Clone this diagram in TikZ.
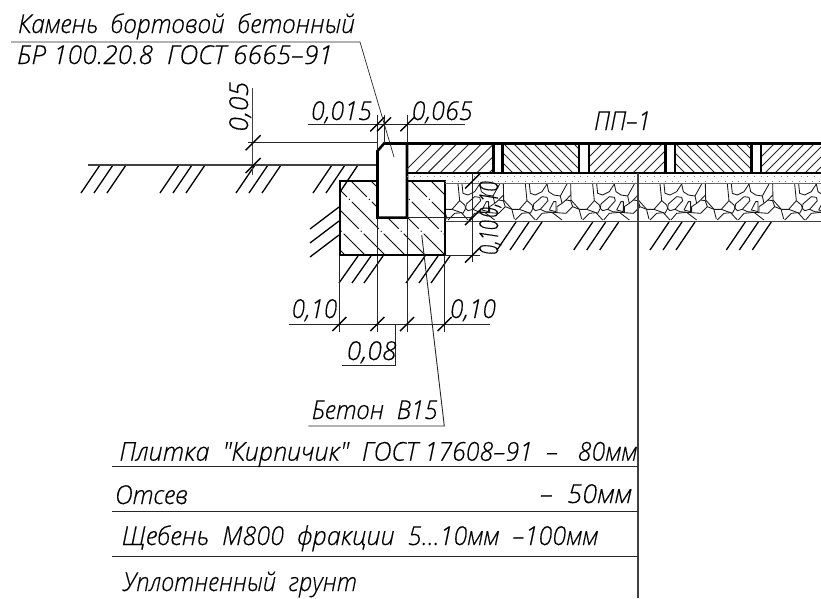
\documentclass[tikz,border=0pt]{standalone}
\usepackage{fontspec}
\usepackage{graphicx}
\newfontfamily\cadfont[UprightFont=* Light Italic,FakeBold=0.35]{Open Sans}
\newcommand{\cadtext}[6][0]{\node[txt,rotate=#1] (#2) at (#3,#4) {\resizebox{#5pt}{\height}{\cadfont\fontsize{26}{26}\selectfont #6}};}
\tikzset{
  txt/.style={anchor=base west,inner sep=0pt,outer sep=0pt},
  thinl/.style={line width=0.9pt,black!85},
  medl/.style={line width=1.4pt,black!75},
  hatchl/.style={line width=1.3pt,black},
  thick3/.style={line width=2.6pt,black,line join=miter},
  stone/.style={line width=0.85pt,black!90,line join=round},
  tick/.style={line width=1.4pt,black}
}
\newcommand{\stonetile}[1]{%
\begin{scope}[shift={(#1,170)},x=0.3333pt,y=-0.3333pt]
 \draw[stone] (92,42)--(93,90)--(118,118)--(140,118)--(163,92)--(158,42);
 \draw[stone] (170,42)--(173,70)--(188,75)--(208,65)--(223,42);
 \draw[stone] (223,42)--(228,65)--(243,75)--(263,78)--(283,42);
 \draw[stone] (181,115)--(183,102)--(208,80)--(223,82)--(226,92)--(203,118)--(188,122)--cycle;
 \draw[stone] (230,120)--(243,95)--(250,95)--(250,125)--cycle;
 \draw[stone] (253,128)--(253,110)--(268,100)--(280,90)--(294,92)--(300,110)--(280,130)--cycle;
 \draw[stone] (280,90)--(294,75) (263,78)--(268,100);
 \draw[stone] (163,92)--(178,105)--(181,115)--(173,130)--(140,118);
 \draw[stone] (300,110)--(320,118);
 \draw[stone] (118,120)--(125,147);
 \draw[stone] (128,150)--(148,130)--(168,128)--(188,150);
 \draw[stone] (191,150)--(208,130)--(238,127)--(268,150);
 \draw[stone] (203,118)--(218,125)--(253,128);
\end{scope}}
\newcommand{\groundhatch}[2]{\draw[hatchl] (#1,#2)--++(-19,28) (#1+13,#2)--++(-19,28) (#1+26,#2)--++(-19,28);}
\begin{document}
\begin{tikzpicture}[x=1pt,y=-1pt]
\useasboundingbox (0,0) rectangle (821,598);
% ground lines and hatches
\groundhatch{100}{165}
\groundhatch{179}{165}
\groundhatch{255}{165}
\draw[hatchl] (332,165)--(313,193) (345,165)--(326,193) (358,165)--(340,192);
\draw[medl] (88,165)--(377,165);
\draw[hatchl] (339,207)--(310,229) (339,221)--(310,243) (339,235)--(310,257);
\foreach \gx in {358,425}{\draw[hatchl] (\gx,256)--++(-19,27) (\gx+13,256)--++(-19,27) (\gx+25,256)--++(-19,27);}
\foreach \gx in {516,592.7,669,745.3}{\groundhatch{\gx}{222}}
% concrete hatch
\begin{scope}
 \clip (340,181) rectangle (445,255);
 \foreach \d in {-80,-60,...,100}{
  \draw[line width=0.9pt,black,dash pattern=on 38pt off 3pt on 1pt off 3pt] (340+\d,170)--++(95,95);}
\end{scope}
\foreach \xx in {377.3,407}{\draw[thinl] (\xx,217) -- (\xx,332);}
% curb
\draw[thick3,fill=white] (377.5,151)--(384,143.5)--(407,143.5)--(407,217.6)--(377.5,217.6)--cycle;
\draw[thick3] (377.5,181)--(340,181)--(340,255)--(445,255)--(445,181)--(407,181);
% paving hatches
\begin{scope}
 \clip (407,144) rectangle (493,172);
 \foreach \d in {0,12.3,...,130}{\draw[thinl] (400+\d,176)--++(36,-36);}
\end{scope}
\begin{scope}
 \clip (503,144) rectangle (579,172);
 \foreach \d in {0,10,...,120}{\draw[thinl] (470+\d,140)--++(36,36);}
\end{scope}
\begin{scope}
 \clip (589,144) rectangle (666,172);
 \foreach \d in {0,10,...,120}{\draw[thinl] (570+\d,176)--++(36,-36);}
\end{scope}
\begin{scope}
 \clip (675,144) rectangle (752,172);
 \foreach \d in {0,10,...,120}{\draw[thinl] (642+\d,140)--++(36,36);}
\end{scope}
\begin{scope}
 \clip (761,144) rectangle (821,172);
 \foreach \d in {0,10,...,100}{\draw[thinl] (742+\d,176)--++(36,-36);}
\end{scope}
\draw[line width=3.2pt] (407,143.3)--(821,143.3);
\draw[line width=2.4pt] (407,172.7)--(821,172.7);
\foreach \ja/\jb in {493.3/502.7,579/589,665.7/675,751.7/761}{
 \draw[line width=2.6pt] (\ja,143)--(\ja,172.7) (\jb,143)--(\jb,172.7);}
% sand
\draw[line width=0.9pt,black!50,dash pattern=on 1pt off 5.67pt] (407,176.2)--(821,176.2);
\draw[line width=0.9pt,black!50,dash pattern=on 1pt off 5.67pt] (445,181.5)--(821,181.5);
\draw[line width=0.9pt,black!60] (445,183.6)--(821,183.6);
% stones
\begin{scope}
 \clip (446,184) rectangle (821,221);
 \foreach \k in {-2,...,3}{\pgfmathsetmacro{\tx}{540+67.33*\k}\stonetile{\tx}}
\end{scope}
\draw[medl] (445,221.7)--(821,221.7);
% dimensions: top
\draw[thinl] (308,124.3)--(465,124.3);
\draw[thinl] (377.3,115)--(377.3,150) (384,115)--(384,143) (407,115)--(407,143);
\foreach \xx in {377.3,384,407.3}{\draw[tick] (\xx-7,131.3)--(\xx+7,117.3);}
% 0,05
\draw[thinl] (248,142.7)--(377,142.7);
\draw[medl] (252.7,88)--(252.7,175);
\foreach \yy in {142.7,165.5}{\draw[tick] (245.7,\yy+7.5)--(260.7,\yy-7.5);}
% right dim
\draw[thinl] (472.5,173)--(472.5,262);
\draw[thinl] (407,217.6)--(472.5,217.6) (445,255)--(480,255);
\foreach \yy in {181,217.6,255}{\draw[tick] (465,\yy+7.5)--(480,\yy-7.5);}
% bottom dim
\draw[thinl] (339.3,256)--(339.3,332) (444.7,256)--(444.7,332);
\draw[thinl] (289.3,324)--(490,324);
\foreach \xx in {339.3,377.3,407,444.7}{\draw[tick] (\xx-7,331)--(\xx+7,317);}
\draw[thinl] (395.7,324)--(395.7,365)--(342.3,365);
% leaders
\coordinate (lk) at (394,157);
\coordinate (lb) at (421.7,235);
\draw[thinl,line width=0.7pt] (lk)--(360,42)--(11,42);
\draw[thinl] (lb)--(444.3,426)--(308.3,426);
\draw[medl] (638,173)--(638,598);
\draw[thinl] (112,466.7)--(638,466.7) (112,511)--(638,511) (112,556)--(638,556);
% texts
\cadtext{t1}{18}{33}{337}{Камень~~бортовой~~бетонный}
\cadtext{t2}{17}{64}{316}{БР 100.20.8~~ГОСТ 6665–91}
\cadtext{t3}{594}{130}{57}{ПП–1}
\cadtext{t4}{311}{120}{61}{0,015}
\cadtext{t5}{411.7}{120}{61}{0,065}
\cadtext[90]{t6}{248}{131.7}{50}{0,05}
\cadtext[90]{t7}{498}{218}{37}{0,10}
\cadtext[90]{t8}{498}{255}{35}{0,10}
\cadtext{t9}{291.7}{318}{45.6}{0,10}
\cadtext{t10}{450}{318}{46}{0,10}
\cadtext{t11}{346.7}{360}{50}{0,08}
\cadtext{t12}{311.7}{419}{126}{Бетон~~В15}
\cadtext{t13}{119.3}{460.7}{518}{Плитка~~"Кирпичик"~~ГОСТ 17608–91~~–~~~80мм}
\cadtext{t14}{115}{504}{73}{Отсев}
\cadtext{t15}{540}{503}{92}{–~~50мм}
\cadtext{t16}{121.7}{545}{476.6}{Щебень~~М800~~фракции~~5...10мм~~–100мм}
\cadtext{t17}{123}{591}{234}{Уплотненный~~грунт}
\end{tikzpicture}
\end{document}
